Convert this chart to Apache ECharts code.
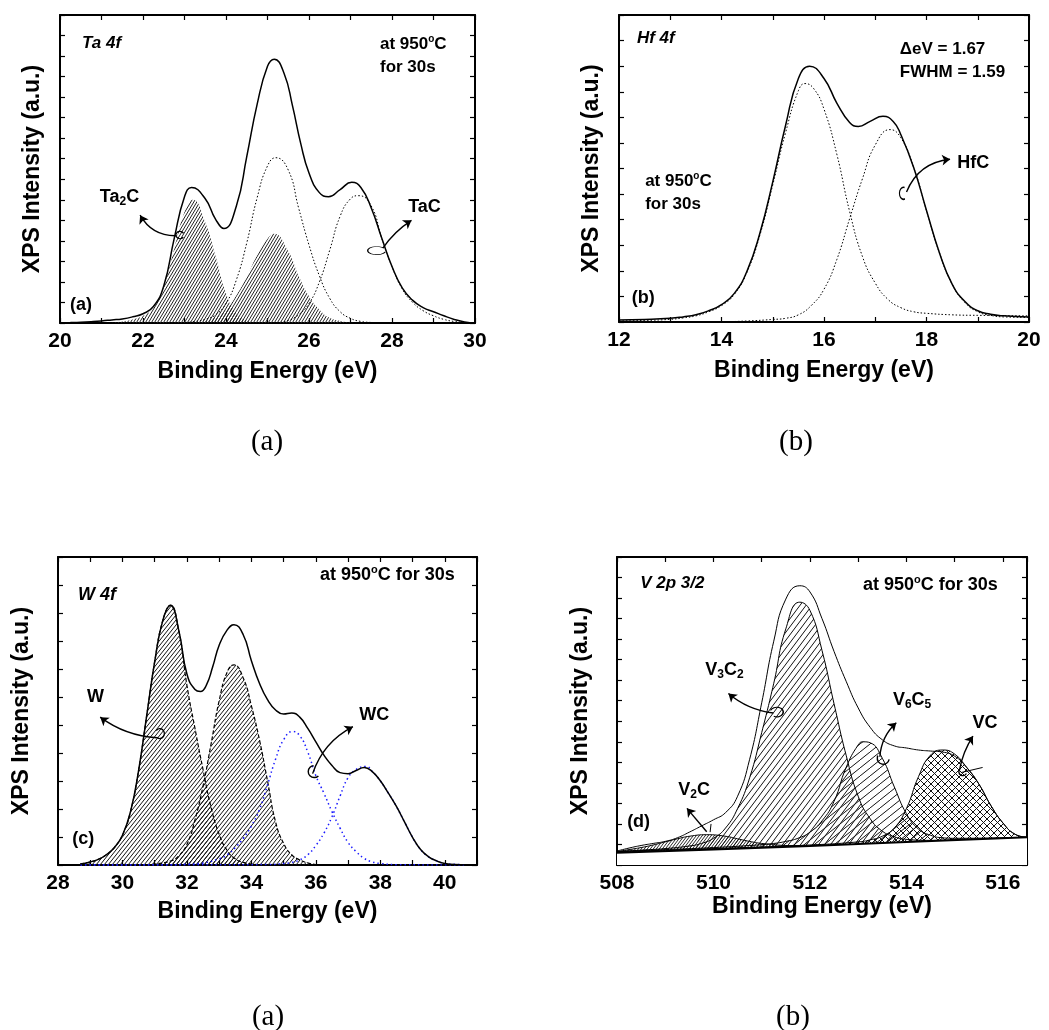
<!DOCTYPE html>
<html>
<head>
<meta charset="utf-8">
<script src="https://cdn.jsdelivr.net/npm/echarts@6.0.0/dist/echarts.min.js"></script>
<style>
  html, body { margin: 0; padding: 0; background: #fff; }
  #chart { width: 1049px; height: 1030px; }
</style>
</head>
<body>
<div id="chart"></div>
<script>
// ---------- Ta 4f (panel a): binding energy (eV), intensity (a.u.) ----------
const taEnvelope = [[20,0.3],[20.25,0.5],[20.5,0.8],[20.75,1.3],[21,2],[21.25,3],[21.5,4],[21.75,6],[22,9],[22.25,16],[22.5,36],[22.75,82],[23,123],[23.17,132],[23.5,121],[23.75,101],[23.95,92],[24.25,114],[24.5,162],[24.75,213],[25,250],[25.16,257],[25.4,243],[25.6,212],[25.8,175],[26,146],[26.25,127],[26.47,123],[26.75,130],[27.03,137],[27.25,132],[27.5,112],[27.75,83],[28,55],[28.25,34],[28.5,22],[28.75,15],[29,11],[29.25,7],[29.5,3.5],[29.75,1],[30,0]];
const ta2cPeak1 = [[21,0],[21.25,0.5],[21.5,1.5],[21.75,3.5],[22,7],[22.25,15],[22.5,36],[22.75,72],[23,108],[23.2,120],[23.5,98],[23.75,65],[24,29],[24.25,9],[24.5,2.5],[24.75,0.5],[25,0]];
const ta2cPeak2 = [[23,0],[23.25,0.5],[23.5,2],[23.75,5.5],[24,13],[24.25,27],[24.5,45],[24.75,66],[25,82],[25.15,87],[25.5,70],[25.75,46],[26,26],[26.25,13],[26.5,5],[26.75,2],[27,0.5],[27.25,0]];
const tacPeak1 = [[20,0],[22.5,0],[23,0.5],[23.25,1.5],[23.5,3.5],[23.75,8],[24,19],[24.25,42],[24.5,78],[24.75,122],[25,153],[25.2,161],[25.5,149],[25.75,112],[26,76],[26.25,46],[26.5,24],[26.75,11],[27,4.5],[27.25,1.5],[27.5,0.5],[27.75,0],[30,0]];
const tacPeak2 = [[20,0],[24.75,0],[25.25,0.5],[25.5,2.5],[25.75,8],[26,19],[26.25,40],[26.5,71],[26.75,104],[27,121],[27.2,124],[27.5,114],[27.75,83],[28,55],[28.25,33],[28.5,20],[28.75,12],[29,7],[29.25,3.5],[29.5,1.5],[29.75,0.5],[30,0]];

// ---------- Hf 4f (panel b) ----------
const hfEnvelope = [[12,2],[12.5,2.5],[13,3.6],[13.25,5],[13.5,7],[13.75,11],[14,17],[14.25,28],[14.5,50],[14.75,87],[15,137],[15.25,192],[15.5,238],[15.72,250],[16,238],[16.25,214],[16.5,195],[16.67,191],[16.9,196],[17.15,201],[17.35,196],[17.5,183],[17.75,151],[18,109],[18.25,68],[18.5,37],[18.75,20],[19,11],[19.25,7.5],[19.5,6],[20,5]];
const hfPeak1 = [[12,1],[12.5,1.5],[13,2.6],[13.25,4],[13.5,6],[13.75,10],[14,16],[14.25,27],[14.5,49],[14.75,85],[15,134],[15.25,185],[15.5,226],[15.63,233],[15.8,228],[16,208],[16.25,164],[16.5,108],[16.75,64],[17,38],[17.25,22],[17.5,14],[17.75,10],[18,8.5],[18.5,7],[19,6.5],[20,6]];
const hfPeak2 = [[12,0],[14,0.3],[14.5,1],[15,2.5],[15.25,3.6],[15.5,7],[15.75,16],[16,32],[16.25,61],[16.5,101],[16.75,140],[17,173],[17.29,188],[17.5,180],[17.75,151],[18,109],[18.25,68],[18.5,37],[18.75,19],[19,10],[19.25,6.5],[19.5,5],[20,4.5]];

// ---------- W 4f (panel c) ----------
const wEnvelope = [[28.69,1],[29,3],[29.25,5.5],[29.5,10],[29.75,17],[30,29],[30.25,52],[30.5,92],[30.75,145],[31,198],[31.25,238],[31.49,253],[31.75,228],[32,186],[32.25,171],[32.42,169],[32.6,175],[32.8,193],[33,214],[33.25,229],[33.46,234],[33.75,224],[34,199],[34.25,177],[34.5,161],[34.75,151],[35,147],[35.25,148],[35.5,144],[35.75,133],[36,120],[36.25,107],[36.5,97],[36.75,90],[37,89],[37.25,92],[37.5,95],[37.75,91],[38,82],[38.25,70],[38.5,57],[38.75,42],[39,27],[39.25,15],[39.5,8],[39.75,4],[40,1.5],[40.5,0.3],[40.8,0]];
const wPeak1 = [[28.69,1],[29,3],[29.25,5.5],[29.5,10],[29.75,17],[30,29],[30.25,52],[30.5,92],[30.75,145],[31,198],[31.25,238],[31.49,253],[31.75,228],[32,175],[32.25,133],[32.5,93],[32.75,56],[33,30],[33.25,14],[33.5,6],[33.75,2.5],[34,1],[34.25,0]];
const wPeak2 = [[30.55,0],[31,1],[31.5,4],[31.75,9],[32,20],[32.25,44],[32.5,77],[32.75,118],[33,160],[33.25,188],[33.46,195],[33.75,182],[34,155],[34.25,122],[34.5,82],[34.75,42],[35,21],[35.25,10],[35.5,5],[35.75,2],[36,0.5],[36.37,0]];
const wcPeak1 = [[28.7,0],[31.5,0.3],[32,0.8],[32.5,2],[33,6],[33.25,10],[33.5,17],[33.75,26],[34,38],[34.25,54],[34.5,78],[34.75,103],[35,122],[35.28,130],[35.5,126],[35.75,110],[36,87],[36.25,70],[36.5,52],[36.75,36],[37,22],[37.25,13],[37.5,6.5],[37.75,3],[38,1.5],[38.5,0.3],[40.6,0]];
const wcPeak2 = [[28.7,0],[34.5,0.4],[35,1.5],[35.25,2.5],[35.5,5],[35.75,10],[36,19],[36.25,31],[36.5,47],[36.75,67],[37,85],[37.25,93],[37.56,96],[37.75,91],[38,82],[38.25,70],[38.5,57],[38.75,42],[39,27],[39.25,15],[39.5,8],[39.75,4],[40,1.5],[40.5,0.3],[40.6,0]];

// ---------- V 2p 3/2 (panel d) ----------
const vEnvelope = [[508,13.6],[508.25,16.5],[508.5,19],[508.75,21],[509,23],[509.25,26.5],[509.5,32],[509.75,38],[510,44],[510.25,51],[510.5,67],[510.75,103],[511,158],[511.25,218],[511.5,259],[511.79,272],[512,266],[512.25,240],[512.5,208],[512.75,179],[513,153],[513.25,134],[513.5,122],[513.75,116],[514,114],[514.25,112],[514.5,111],[514.75,110],[515,106],[515.25,95],[515.5,79],[515.75,58],[516,41],[516.25,30],[516.5,27]];
const vBaseline = [[508,12],[510,15],[512,18.5],[514,22.5],[516.5,27]];
const v2cPeak = [[508,13],[508.25,15],[508.5,17],[508.75,19.5],[509,22.5],[509.25,25.5],[509.5,28],[509.86,29.5],[510.25,28],[510.5,25.5],[510.75,23],[511,21],[511.5,19],[512,18.5],[512.5,19.5]];
const v3c2Peak = [[508,13],[508.5,14.5],[509,16],[509.5,18.5],[509.75,21],[510,26],[510.25,36],[510.5,55],[510.75,85],[511,129],[511.25,177],[511.5,230],[511.79,256],[512,248],[512.25,209],[512.5,157],[512.75,107],[513,67],[513.25,45],[513.5,33],[513.75,27.5],[514,25],[514.5,24],[515,24.5],[516.5,27]];
const v6c5Peak = [[508,13],[509,15],[510,17],[510.75,19],[511.25,21],[511.5,23],[511.75,26],[512,32],[512.25,43],[512.5,62],[512.75,95],[513,117],[513.1,120],[513.25,119],[513.5,104],[513.75,76],[514,50],[514.25,35],[514.5,29],[514.75,26.5],[515,26],[516.5,27]];
const vcPeak = [[508,13],[510,16],[512,19.5],[513,22.5],[513.25,24.5],[513.5,28],[513.75,36],[514,55],[514.25,86],[514.5,107],[514.76,112],[515,108],[515.25,95],[515.5,79],[515.75,58],[516,41],[516.25,30],[516.5,27]];

// ---------- axis ranges ----------
const energyRanges = [[20, 30], [12, 20], [28, 41], [508, 516.5]];
const intensityTickSteps = [20, 25, 300 / 11, 20];

const FONT = '"Liberation Sans", Arial, Helvetica, sans-serif';
const SERIF = '"Liberation Serif", "Times New Roman", serif';

// hatch tile: lines running from lower-left to upper-right, optionally crossed
function hatch(w, h, color, lw, cross) {
  const c = document.createElement('canvas');
  c.width = w; c.height = h;
  const g = c.getContext('2d');
  g.strokeStyle = color; g.lineWidth = lw;
  for (const dx of [-w, 0, w]) {
    g.beginPath(); g.moveTo(dx, h); g.lineTo(dx + w, 0); g.stroke();
    if (cross) { g.beginPath(); g.moveTo(dx, 0); g.lineTo(dx + w, h); g.stroke(); }
  }
  return { image: c, repeat: 'repeat' };
}

const grids = [
  { left: 60, top: 15, width: 415, height: 308 },
  { left: 619, top: 15, width: 410, height: 307 },
  { left: 58, top: 557, width: 419, height: 308 },
  { left: 617, top: 557, width: 410, height: 308 }
];
const xNameGaps = [37, 37, 35, 28];
const yNameGaps = [16, 16, 25, 25];

const xAxes = [], yAxes = [];
grids.forEach((gr, k) => {
  const line = { show: true, onZero: false, lineStyle: { color: '#000', width: 2 } };
  const tick = { show: true, inside: true, length: 5, lineStyle: { color: '#000', width: 1.2 } };
  const txt = { fontFamily: FONT, fontWeight: 'bold', color: '#000' };
  const [mn, mx] = energyRanges[k];
  xAxes.push({
    gridIndex: k, type: 'value', position: 'bottom', min: mn, max: mx, interval: 1,
    axisLine: line, axisTick: tick, splitLine: { show: false },
    axisLabel: Object.assign({ show: true, margin: 8, fontSize: 21,
      formatter: v => (Math.abs(v % 2) < 1e-9 ? String(v) : '') }, txt),
    name: 'Binding Energy (eV)', nameLocation: 'middle', nameGap: xNameGaps[k],
    nameTextStyle: Object.assign({ fontSize: 23 }, txt)
  });
  xAxes.push({
    gridIndex: k, type: 'value', position: 'top', min: mn, max: mx, interval: 1,
    axisLine: line, axisTick: tick, axisLabel: { show: false }, splitLine: { show: false }
  });
  yAxes.push({
    gridIndex: k, type: 'value', position: 'left', min: 0, max: 300, interval: intensityTickSteps[k],
    axisLine: line, axisTick: tick, axisLabel: { show: false }, splitLine: { show: false },
    name: 'XPS Intensity (a.u.)', nameLocation: 'middle', nameRotate: 90, nameGap: yNameGaps[k],
    nameTextStyle: Object.assign({ fontSize: 23 }, txt)
  });
  yAxes.push({
    gridIndex: k, type: 'value', position: 'right', min: 0, max: 300, interval: intensityTickSteps[k],
    axisLine: line, axisTick: tick, axisLabel: { show: false }, splitLine: { show: false }
  });
});

function curve(k, data, extra) {
  return Object.assign({
    type: 'line', xAxisIndex: 2 * k, yAxisIndex: 2 * k, data: data,
    showSymbol: false, symbol: 'none', smooth: 0.5,
    silent: true, animation: false
  }, extra);
}
const solid = (w) => ({ color: '#000', width: w });
const dotted = { color: '#000', width: 1, type: [1.5, 2] };
const blueDots = { color: '#1a1aff', width: 1.5, type: [1.5, 3] };

const hatchA = hatch(3, 5, '#222', 1, false);
const hatchC = hatch(4, 5, '#111', 1, false);
const hatchV2C = hatch(3, 4, '#111', 0.9, false);
const hatchV3C2 = hatch(6, 8, '#111', 1, false);
const hatchV6C5 = hatch(10, 8, '#111', 1, false);
const hatchVC = hatch(7, 7, '#111', 1, true);

const series = [
  // panel a
  curve(0, ta2cPeak1, { lineStyle: { width: 0 }, areaStyle: { color: hatchA, opacity: 1 }, z: 2 }),
  curve(0, ta2cPeak2, { lineStyle: { width: 0 }, areaStyle: { color: hatchA, opacity: 1 }, z: 2 }),
  curve(0, tacPeak1, { lineStyle: dotted, z: 3 }),
  curve(0, tacPeak2, { lineStyle: dotted, z: 3 }),
  curve(0, taEnvelope, { lineStyle: solid(1.5), z: 4 }),
  // panel b
  curve(1, hfPeak1, { lineStyle: dotted, z: 3 }),
  curve(1, hfPeak2, { lineStyle: dotted, z: 3 }),
  curve(1, hfEnvelope, { lineStyle: solid(1.5), z: 4 }),
  // panel c
  curve(2, wPeak1, { lineStyle: { color: '#000', width: 1.2, type: [4, 2] }, areaStyle: { color: hatchC, opacity: 1 }, z: 2 }),
  curve(2, wPeak2, { lineStyle: { color: '#000', width: 1.2, type: [4, 2] }, areaStyle: { color: hatchC, opacity: 1 }, z: 2 }),
  curve(2, wcPeak1, { lineStyle: blueDots, z: 3 }),
  curve(2, wcPeak2, { lineStyle: blueDots, z: 3 }),
  curve(2, wEnvelope, { lineStyle: solid(1.5), z: 4 }),
  // panel d
  curve(3, v2cPeak, { lineStyle: solid(1), areaStyle: { color: hatchV2C, opacity: 1 }, z: 2 }),
  curve(3, v3c2Peak, { lineStyle: solid(1), areaStyle: { color: hatchV3C2, opacity: 1 }, z: 2 }),
  curve(3, v6c5Peak, { lineStyle: solid(1), areaStyle: { color: hatchV6C5, opacity: 1 }, z: 2 }),
  curve(3, vcPeak, { lineStyle: solid(1), areaStyle: { color: hatchVC, opacity: 1 }, z: 2 }),
  curve(3, vBaseline, { smooth: false, lineStyle: solid(2), areaStyle: { color: '#fff', opacity: 1 }, z: 3 }),
  curve(3, vEnvelope, { lineStyle: solid(1), z: 4 })
];

// pointer arrows (data coordinates of tail and head, bow of the curve)
const pointers = [
  { k: 0, from: [22.81, 85], to: [21.93, 105], bow: 0.3 },
  { k: 0, from: [27.78, 73], to: [28.47, 100], bow: 0.1 },
  { k: 1, from: [17.61, 127], to: [18.46, 159], bow: 0.3 },
  { k: 2, from: [31.07, 124], to: [29.31, 144], bow: 0.15 },
  { k: 2, from: [35.9, 89], to: [37.15, 134.7], bow: 0.2 },
  { k: 3, from: [511.24, 148], to: [510.31, 167], bow: 0.15 },
  { k: 3, from: [513.45, 105.5], to: [513.79, 138.6], bow: 0.2 },
  { k: 3, from: [515.1, 92.5], to: [515.38, 125.6], bow: 0.1 },
  { k: 3, from: [509.86, 32.4], to: [509.45, 55.2], bow: 0 }
];
pointers.forEach(p => {
  series.push({
    type: 'lines', coordinateSystem: 'cartesian2d', xAxisIndex: 2 * p.k, yAxisIndex: 2 * p.k,
    symbol: ['none', 'arrow'], symbolSize: 8, silent: true, animation: false, z: 6,
    lineStyle: { color: '#000', width: 1.4, curveness: p.bow, opacity: 1 },
    data: [{ coords: [p.from, p.to] }]
  });
});
// short leader strokes without heads
const leaders = [
  { k: 3, from: [515.13, 90], to: [515.58, 95] },
  { k: 3, from: [509.93, 32], to: [509.95, 40] }
];
leaders.forEach(p => {
  series.push({
    type: 'lines', coordinateSystem: 'cartesian2d', xAxisIndex: 2 * p.k, yAxisIndex: 2 * p.k,
    symbol: 'none', silent: true, animation: false, z: 6,
    lineStyle: { color: '#000', width: 1, opacity: 1 },
    data: [{ coords: [p.from, p.to] }]
  });
});

const chart = echarts.init(document.getElementById('chart'), null, { renderer: 'canvas' });
chart.setOption({
  animation: false,
  backgroundColor: '#fff',
  grid: grids.map(g => Object.assign({ containLabel: false }, g)),
  xAxis: xAxes,
  yAxis: yAxes,
  series: series
});

// in-panel labels (data coordinates)
const notes = [
  { k: 0, at: [20.53, 272.6], text: 'Ta 4f', italic: true, size: 17 },
  { k: 0, at: [27.71, 271], text: 'at 950{sup|o}C', size: 17 },
  { k: 0, at: [27.71, 249], text: 'for 30s', size: 17 },
  { k: 0, at: [20.96, 123], text: 'Ta{sub|2}C', size: 18 },
  { k: 0, at: [28.39, 113], text: 'TaC', size: 18 },
  { k: 0, at: [20.24, 17.5], text: '(a)', size: 18 },
  { k: 1, at: [12.35, 277.6], text: 'Hf 4f', italic: true, size: 17 },
  { k: 1, at: [17.48, 266], text: '\u0394eV = 1.67', size: 17 },
  { k: 1, at: [17.48, 244], text: 'FWHM = 1.59', size: 17 },
  { k: 1, at: [12.51, 137], text: 'at 950{sup|o}C', size: 17 },
  { k: 1, at: [12.51, 115], text: 'for 30s', size: 17 },
  { k: 1, at: [18.6, 155], text: 'HfC', size: 18 },
  { k: 1, at: [12.25, 23.5], text: '(b)', size: 18 },
  { k: 2, at: [28.62, 263], text: 'W 4f', italic: true, size: 18 },
  { k: 2, at: [36.13, 282], text: 'at 950{sup|o}C for 30s', size: 18 },
  { k: 2, at: [28.9, 163.6], text: 'W', size: 18 },
  { k: 2, at: [37.35, 146], text: 'WC', size: 18 },
  { k: 2, at: [28.44, 25], text: '(c)', size: 18 },
  { k: 3, at: [508.48, 274.6], text: 'V 2p 3/2', italic: true, size: 17 },
  { k: 3, at: [513.1, 272.6], text: 'at 950{sup|o}C for 30s', size: 18 },
  { k: 3, at: [509.83, 190], text: 'V{sub|3}C{sub|2}', size: 18 },
  { k: 3, at: [513.72, 160.7], text: 'V{sub|6}C{sub|5}', size: 18 },
  { k: 3, at: [515.37, 138], text: 'VC', size: 18 },
  { k: 3, at: [509.27, 73], text: 'V{sub|2}C', size: 18 },
  { k: 3, at: [508.21, 42], text: '(d)', size: 18 }
];
// small curls at the tail of each pointer
const curls = [
  { k: 0, at: [22.89, 85.7], r: 4, sx: 1, sy: 0.9, a0: 0.6, a1: 5.8 },
  { k: 0, at: [27.63, 70.5], r: 9, sx: 1, sy: 0.45, a0: 0.3, a1: 5.6 },
  { k: 1, at: [17.55, 125.8], r: 5, sx: 0.8, sy: 1.2, a0: 1.2, a1: 5.0 },
  { k: 2, at: [31.16, 128], r: 5, sx: 0.9, sy: 1, a0: 3.8, a1: 8.6 },
  { k: 2, at: [35.95, 91], r: 6, sx: 1, sy: 1, a0: 0.8, a1: 4.6 },
  { k: 3, at: [511.31, 149], r: 6, sx: 1.1, sy: 0.8, a0: 3.5, a1: 8.3 },
  { k: 3, at: [513.52, 104], r: 6, sx: 1, sy: 1, a0: 0.2, a1: 3.6 },
  { k: 3, at: [515.17, 91], r: 4, sx: 1, sy: 1, a0: 0.5, a1: 3.8 }
];

function richFor(size) {
  const f = (s) => 'bold ' + s + 'px ' + FONT;
  return {
    sub: { font: f(Math.round(size * 0.65)), fill: '#000', verticalAlign: 'bottom', lineHeight: 12 },
    sup: { font: f(Math.round(size * 0.6)), fill: '#000', verticalAlign: 'top', lineHeight: 11 }
  };
}

const graphics = [];
notes.forEach(n => {
  const p = chart.convertToPixel({ gridIndex: n.k }, n.at);
  graphics.push({
    type: 'text', x: p[0], y: p[1], silent: true, z: 10,
    style: {
      text: n.text, fill: '#000',
      font: (n.italic ? 'italic ' : '') + 'bold ' + n.size + 'px ' + FONT,
      lineHeight: n.text.indexOf('{') >= 0 ? 22 : undefined,
      align: 'left', verticalAlign: 'middle', textAlign: 'left', textVerticalAlign: 'middle',
      rich: richFor(n.size)
    }
  });
});
curls.forEach(c => {
  const p = chart.convertToPixel({ gridIndex: c.k }, c.at);
  graphics.push({
    type: 'arc', x: p[0], y: p[1], scaleX: c.sx, scaleY: c.sy, silent: true, z: 10,
    shape: { cx: 0, cy: 0, r: c.r, startAngle: c.a0, endAngle: c.a1 },
    style: { stroke: '#000', lineWidth: 1.4, fill: null }
  });
});
// figure captions under each row
[['(a)', 267, 442], ['(b)', 796, 442], ['(a)', 268, 1017], ['(b)', 793, 1017]].forEach(c => {
  graphics.push({
    type: 'text', x: c[1], y: c[2], silent: true,
    style: { text: c[0], font: '29px ' + SERIF, fill: '#000',
      align: 'center', verticalAlign: 'middle', textAlign: 'center', textVerticalAlign: 'middle' }
  });
});
chart.setOption({ graphic: graphics });
</script>
</body>
</html>
